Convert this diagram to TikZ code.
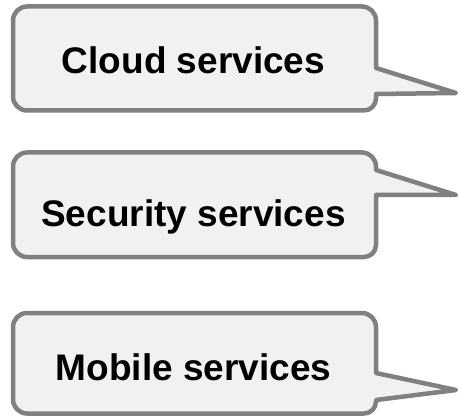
\documentclass[tikz,border=0pt]{standalone}
\usepackage{fontspec}
\setmainfont{Liberation Sans}
\definecolor{calloutfill}{HTML}{F1F1F1}
\definecolor{calloutline}{HTML}{808080}
\begin{document}
\begin{tikzpicture}[x=1pt,y=1pt,
  callout/.style={fill=calloutfill,draw=calloutline,line width=4.5pt,line join=round},
  label/.style={anchor=base,inner sep=0pt,font=\fontsize{37}{44}\selectfont\bfseries}]
\useasboundingbox (0,0) rectangle (460,418);
% callout shape: left, right, top, bottom, pointer top y, tip x, tip y, pointer bottom y
\newcommand{\speechbox}[8]{%
  \draw[callout] (#1,#4+14) -- (#1,#3-14) arc[start angle=180,end angle=90,radius=14]
    -- (#2-14,#3) arc[start angle=90,end angle=0,radius=14]
    -- (#2,#5) -- (#6,#7) -- (#2,#8)
    -- (#2,#4+12) arc[start angle=0,end angle=-90,radius=12]
    -- (#1+14,#4) arc[start angle=270,end angle=180,radius=14] -- cycle;}
\speechbox{13}{376}{411.5}{307.5}{350}{456}{325}{324}
\speechbox{13}{376}{265.5}{161}{248}{456}{223}{223}
\speechbox{13}{376}{105}{4.5}{45}{456}{28}{18}
\node[label] (cloud) at (193.5,344) {Cloud services};
\node[label] (security) at (193.5,191) {Security services};
\node[label] (mobile) at (193.5,38) {Mobile services};
\end{tikzpicture}
\end{document}
